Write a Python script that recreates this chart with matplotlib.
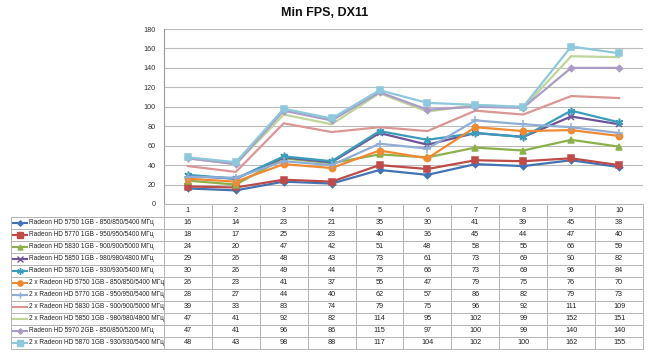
import matplotlib
matplotlib.use("Agg")
import matplotlib.pyplot as plt
from matplotlib.lines import Line2D
import matplotlib.transforms as mtransforms

categories = ["1", "2", "3", "4", "5", "6", "7", "8", "9", "10"]
series_names = [
    "Radeon HD 5750 1GB - 850/850/5400 МГц",
    "Radeon HD 5770 1GB - 950/950/5400 МГц",
    "Radeon HD 5830 1GB - 900/900/5000 МГц",
    "Radeon HD 5850 1GB - 980/980/4800 МГц",
    "Radeon HD 5870 1GB - 930/930/5400 МГц",
    "2 x Radeon HD 5750 1GB - 850/850/5400 МГц",
    "2 x Radeon HD 5770 1GB - 950/950/5400 МГц",
    "2 x Radeon HD 5830 1GB - 900/900/5000 МГц",
    "2 x Radeon HD 5850 1GB - 980/980/4800 МГц",
    "Radeon HD 5970 2GB - 850/850/5200 МГц",
    "2 x Radeon HD 5870 1GB - 930/930/5400 МГц",
]
hd5750 = [16, 14, 23, 21, 35, 30, 41, 39, 45, 38]
hd5770 = [18, 17, 25, 23, 40, 36, 45, 44, 47, 40]
hd5830 = [24, 20, 47, 42, 51, 48, 58, 55, 66, 59]
hd5850 = [29, 26, 48, 43, 73, 61, 73, 69, 90, 82]
hd5870 = [30, 26, 49, 44, 75, 66, 73, 69, 96, 84]
x2_5750 = [26, 23, 41, 37, 55, 47, 79, 75, 76, 70]
x2_5770 = [28, 27, 44, 40, 62, 57, 86, 82, 79, 73]
x2_5830 = [39, 33, 83, 74, 79, 75, 96, 92, 111, 109]
x2_5850 = [47, 41, 92, 82, 114, 95, 102, 99, 152, 151]
hd5970 = [47, 41, 96, 86, 115, 97, 100, 99, 140, 140]
x2_5870 = [48, 43, 98, 88, 117, 104, 102, 100, 162, 155]
all_values = [hd5750, hd5770, hd5830, hd5850, hd5870, x2_5750, x2_5770,
              x2_5830, x2_5850, hd5970, x2_5870]

colors = ["#4274B5", "#BE4B48", "#8DB04D", "#6F5499", "#3B9DBB", "#F08A32",
          "#8FADD6", "#DA9694", "#C0D598", "#AA9CC6", "#8DC8DC"]
markers = ["D", "s", "^", "x", (6, 2, 0), "o", "+", None, None, "D", "s"]
msizes = [3.2, 4.5, 4.2, 4.5, 5.5, 4.5, 5.5, 0, 0, 3.2, 5]
yticks = [0, 20, 40, 60, 80, 100, 120, 140, 160, 180]

W, H = 650, 352
fig = plt.figure(figsize=(W / 100, H / 100), dpi=100)
fig.patch.set_facecolor("white")

L, R, T, B = 164, 643, 29, 204
ax = fig.add_axes([L / W, 1 - B / H, (R - L) / W, (B - T) / H])
x = list(range(1, len(categories) + 1))
for vals, c, m, ms in zip(all_values, colors, markers, msizes):
    ax.plot(x, vals, color=c, lw=1.6, marker=m, ms=ms, mew=1.1,
            markerfacecolor=c, markeredgecolor=c)
ax.set_xlim(0.5, len(categories) + 0.5)
ax.set_ylim(0, 180)
ax.set_yticks(yticks)
ax.set_yticklabels([str(v) for v in yticks], fontsize=5.2, color="#333333",
                   family="Liberation Sans")
ax.tick_params(axis="y", length=0, pad=6)
ax.set_xticks([])
ax.grid(axis="y", color="#BBBBBB", lw=0.8)
ax.set_axisbelow(True)
for s in ["top", "right", "bottom"]:
    ax.spines[s].set_visible(False)
ax.spines["left"].set_color("#999999")
ax.spines["left"].set_linewidth(0.8)

fig.text(325 / W, 1 - 13 / H, "Min FPS, DX11", ha="center", va="center",
         fontsize=9, fontweight="bold", color="#111111",
         family="Liberation Sans")

tr = mtransforms.blended_transform_factory(ax.transData, fig.transFigure)
def fy(p):
    return 1 - p / H
def fx(p):
    return p / W

grid_c = "#B5B5B5"
header_top, header_bot = 204, 217
row_h = 12.0
n = len(all_values)
table_bot = header_bot + n * row_h
tleft = 11

for i, cat in enumerate(categories):
    fig.text(x[i], fy((header_top + header_bot) / 2), cat, transform=tr,
             ha="center", va="center", fontsize=5.2, color="#222222",
             family="Liberation Sans")
for b in [0.5 + k for k in range(len(categories) + 1)]:
    fig.add_artist(Line2D([b, b], [fy(header_top), fy(table_bot)],
                          transform=tr, color=grid_c, lw=0.7))
fig.add_artist(Line2D([fx(tleft), fx(tleft)], [fy(header_bot), fy(table_bot)],
                      transform=fig.transFigure, color=grid_c, lw=0.7))
fig.add_artist(Line2D([fx(L), fx(R)], [fy(header_top)] * 2,
                      transform=fig.transFigure, color=grid_c, lw=0.7))
for k in range(n + 1):
    yy = header_bot + k * row_h
    fig.add_artist(Line2D([fx(tleft), fx(R)], [fy(yy)] * 2,
                          transform=fig.transFigure, color=grid_c, lw=0.7))

for r, (name, vals, c, m, ms) in enumerate(zip(series_names, all_values, colors,
                                                markers, msizes)):
    yc = header_bot + (r + 0.5) * row_h
    fig.add_artist(Line2D([fx(13), fx(27)], [fy(yc)] * 2,
                          transform=fig.transFigure, color=c, lw=1.5))
    if m is not None:
        fig.add_artist(Line2D([fx(20)], [fy(yc)], transform=fig.transFigure,
                              color=c, marker=m, ms=ms * 0.85, mew=1,
                              markerfacecolor=c, markeredgecolor=c))
    fig.text(fx(29), fy(yc), name, ha="left", va="center", fontsize=4.7,
             family=["Liberation Sans", "DejaVu Sans"], color="#222222")
    for i, v in enumerate(vals):
        fig.text(x[i], fy(yc), str(v), transform=tr, ha="center", va="center",
                 fontsize=5.2, color="#222222", family="Liberation Sans")

fig.savefig("out.png", dpi=100, facecolor="white")
